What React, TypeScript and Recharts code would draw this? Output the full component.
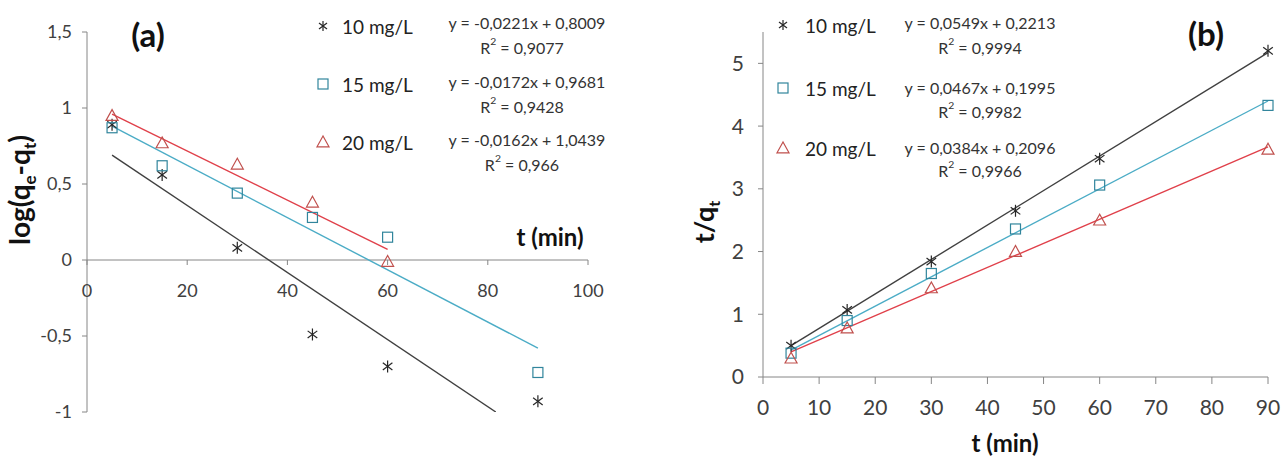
import React from "react";
import {
  ScatterChart,
  Scatter,
  XAxis,
  YAxis,
  ReferenceLine,
} from "recharts";

// Sampling times (min)
const times = [5, 15, 30, 45, 60, 90];

// Panel (a): log(qe - qt)
const a10 = [0.89, 0.56, 0.08, -0.49, -0.7, -0.93];
const a15 = [0.87, 0.62, 0.44, 0.28, 0.15, -0.74];
const a20 = [0.95, 0.77, 0.63, 0.38, -0.01];

// Panel (a) trend line ends
const a10Fit = [{ t: 5, v: 0.69 }, { t: 81.6, v: -1.0 }];
const a15Fit = [{ t: 5, v: 0.88 }, { t: 90, v: -0.58 }];
const a20Fit = [{ t: 5, v: 0.96 }, { t: 60, v: 0.07 }];

// Panel (b): t/qt
const b10 = [0.5, 1.07, 1.84, 2.65, 3.48, 5.2];
const b15 = [0.38, 0.9, 1.65, 2.36, 3.06, 4.33];
const b20 = [0.3, 0.78, 1.42, 2.0, 2.5, 3.63];

const b10Fit = [{ t: 5, v: 0.5 }, { t: 90, v: 5.17 }];
const b15Fit = [{ t: 5, v: 0.43 }, { t: 90, v: 4.4 }];
const b20Fit = [{ t: 5, v: 0.4 }, { t: 90, v: 3.67 }];

// Ticks
const aXTicks = [0, 20, 40, 60, 80, 100];
const aYTicks = [-1, -0.5, 0, 0.5, 1, 1.5];
const bXTicks = [0, 10, 20, 30, 40, 50, 60, 70, 80, 90];
const bYTicks = [0, 1, 2, 3, 4, 5];

// Legend / equation labels
const seriesNames = ["10 mg/L", "15 mg/L", "20 mg/L"];
const aEquations = ["y = -0,0221x + 0,8009", "y = -0,0172x + 0,9681", "y = -0,0162x + 1,0439"];
const aR2 = ["0,9077", "0,9428", "0,966"];
const bEquations = ["y = 0,0549x + 0,2213", "y = 0,0467x + 0,1995", "y = 0,0384x + 0,2096"];
const bR2 = ["0,9994", "0,9982", "0,9966"];

const toPoints = (ys: number[]) => ys.map((v, i) => ({ t: times[i], v }));

const FONT = "Lato, 'Open Sans', sans-serif";
const AXIS = "#868686";
const TEXT = "#333";
const BLACK = "#262626";
const BLACK_LINE = "#404040";
const BLUE_MARK = "#31859c";
const BLUE_LINE = "#4bacc6";
const RED_MARK = "#c0504d";
const RED_LINE = "#e0404a";

// Layout of panel (a)
const A_H = 459;
const A_TOP = 32;
const A_BOTTOM = 47;
const A_PLOT_H = A_H - A_TOP - A_BOTTOM;
const A_YMIN = -1;
const A_YMAX = 1.5;
const A_ZERO_UP = (A_PLOT_H * (0 - A_YMIN)) / (A_YMAX - A_YMIN);

const comma = (v: number) => String(v).replace(".", ",");

const Asterisk = ({ cx = 0, cy = 0, r = 6 }: any) => (
  <g stroke={BLACK} strokeWidth={1.2}>
    <line x1={cx} y1={cy - r} x2={cx} y2={cy + r} />
    <line x1={cx - r * 0.8} y1={cy - r * 0.6} x2={cx + r * 0.8} y2={cy + r * 0.6} />
    <line x1={cx - r * 0.8} y1={cy + r * 0.6} x2={cx + r * 0.8} y2={cy - r * 0.6} />
  </g>
);

const Square = ({ cx = 0, cy = 0, r = 5 }: any) => (
  <rect x={cx - r} y={cy - r} width={r * 2} height={r * 2} fill="none" stroke={BLUE_MARK} strokeWidth={1.2} />
);

const Triangle = ({ cx = 0, cy = 0, r = 6 }: any) => (
  <polygon
    points={`${cx},${cy - r} ${cx - r},${cy + r * 0.8} ${cx + r},${cy + r * 0.8}`}
    fill="none"
    stroke={RED_MARK}
    strokeWidth={1.2}
  />
);

const NoDot = () => <g />;

// x ticks of panel (a) sit on the y = 0 line, not at the bottom of the plot
const ZeroAxisTick = ({ x, y, payload }: any) => {
  const y0 = y - A_ZERO_UP;
  return (
    <g>
      <line x1={x} x2={x} y1={y0} y2={y0 + 5} stroke={AXIS} />
      <text x={x} y={y0 + 24} dy="0.71em" textAnchor="middle" fontSize={18} fill="#404040" fontFamily={FONT}>
        {payload.value}
      </text>
    </g>
  );
};

const R2Text = ({ x, y, value, size }: any) => (
  <text x={x} y={y} textAnchor="middle" dominantBaseline="central" fontSize={size} fill={TEXT}>
    R<tspan dy={-6} fontSize={size * 0.65}>2</tspan>
    <tspan dy={6}> = {value}</tspan>
  </text>
);

const markers = [Asterisk, Square, Triangle];

const App = () => {
  return (
    <div style={{ position: "absolute", left: 0, top: 0, width: 1282, height: 459, background: "#fff", fontFamily: FONT }}>
      {/* Panel (a) */}
      <div style={{ position: "absolute", left: 0, top: 0 }}>
        <ScatterChart width={640} height={A_H} margin={{ top: A_TOP, right: 52, bottom: 17, left: 27 }}>
          <XAxis
            dataKey="t"
            type="number"
            domain={[0, 100]}
            ticks={aXTicks}
            axisLine={false}
            tickLine={false}
            tickSize={0}
            tickMargin={0}
            height={30}
            tick={<ZeroAxisTick />}
          />
          <YAxis
            dataKey="v"
            type="number"
            domain={[A_YMIN, A_YMAX]}
            ticks={aYTicks}
            allowDataOverflow
            width={60}
            stroke={AXIS}
            tickSize={5}
            tickMargin={10}
            tickFormatter={comma}
            tick={{ fontSize: 18, fill: "#404040", fontFamily: FONT }}
          />
          <ReferenceLine y={0} stroke={AXIS} strokeWidth={1} />
          <Scatter data={a10Fit} line={{ stroke: BLACK_LINE, strokeWidth: 1.4 }} shape={<NoDot />} isAnimationActive={false} />
          <Scatter data={a15Fit} line={{ stroke: BLUE_LINE, strokeWidth: 1.4 }} shape={<NoDot />} isAnimationActive={false} />
          <Scatter data={a20Fit} line={{ stroke: RED_LINE, strokeWidth: 1.4 }} shape={<NoDot />} isAnimationActive={false} />
          <Scatter name="10 mg/L" data={toPoints(a10)} shape={<Asterisk />} isAnimationActive={false} />
          <Scatter name="15 mg/L" data={toPoints(a15)} shape={<Square />} isAnimationActive={false} />
          <Scatter name="20 mg/L" data={toPoints(a20)} shape={<Triangle />} isAnimationActive={false} />
        </ScatterChart>
      </div>

      {/* Panel (b) */}
      <div style={{ position: "absolute", left: 640, top: 0 }}>
        <ScatterChart width={642} height={459} margin={{ top: 32, right: 14, bottom: 22, left: 63 }}>
          <XAxis
            dataKey="t"
            type="number"
            domain={[0, 90]}
            ticks={bXTicks}
            height={60}
            stroke={AXIS}
            tickSize={7}
            tickMargin={16}
            tick={{ fontSize: 21, fill: "#404040", fontFamily: FONT }}
          />
          <YAxis
            dataKey="v"
            type="number"
            domain={[0, 5.5]}
            ticks={bYTicks}
            width={60}
            stroke={AXIS}
            tickSize={5}
            tickMargin={14}
            tick={{ fontSize: 21, fill: "#404040", fontFamily: FONT }}
          />
          <Scatter data={b10Fit} line={{ stroke: BLACK_LINE, strokeWidth: 1.4 }} shape={<NoDot />} isAnimationActive={false} />
          <Scatter data={b15Fit} line={{ stroke: BLUE_LINE, strokeWidth: 1.4 }} shape={<NoDot />} isAnimationActive={false} />
          <Scatter data={b20Fit} line={{ stroke: RED_LINE, strokeWidth: 1.4 }} shape={<NoDot />} isAnimationActive={false} />
          <Scatter name="10 mg/L" data={toPoints(b10)} shape={<Asterisk />} isAnimationActive={false} />
          <Scatter name="15 mg/L" data={toPoints(b15)} shape={<Square />} isAnimationActive={false} />
          <Scatter name="20 mg/L" data={toPoints(b20)} shape={<Triangle />} isAnimationActive={false} />
        </ScatterChart>
      </div>

      {/* Titles, axis names, legends and trend equations */}
      <svg width={1282} height={459} style={{ position: "absolute", left: 0, top: 0, pointerEvents: "none" }} fontFamily={FONT}>
        <text x={148} y={47} textAnchor="middle" fontSize={33} fontWeight="bold" fill="#111">(a)</text>
        <text x={1206} y={46} textAnchor="middle" fontSize={33} fontWeight="bold" fill="#111">(b)</text>
        <text x={550} y={246} textAnchor="middle" fontSize={24} fontWeight="bold" fill="#111">t (min)</text>
        <text x={1005} y={452} textAnchor="middle" fontSize={24} fontWeight="bold" fill="#111">t (min)</text>

        <text transform="translate(30,190) rotate(-90)" textAnchor="middle" fontSize={28} fontWeight="bold" fill="#111">
          log(q<tspan dy={6} fontSize={17}>e</tspan>
          <tspan dy={-6}>-q</tspan>
          <tspan dy={6} fontSize={17}>t</tspan>
          <tspan dy={-6}>)</tspan>
        </text>
        <text transform="translate(714,222) rotate(-90)" textAnchor="middle" fontSize={27} fontWeight="bold" fill="#111">
          t/q<tspan dy={6} fontSize={16}>t</tspan>
        </text>

        {seriesNames.map((name, i) => {
          const Mark = markers[i];
          const ly = [26, 84, 142][i];
          const ey = [22, 81, 139][i];
          const ry = [47, 106, 164][i];
          return (
            <g key={"a" + name}>
              <Mark cx={323} cy={ly} r={i === 2 ? 6 : 5} />
              <text x={342} y={ly} dominantBaseline="central" fontSize={19} fill="#222">{name}</text>
              <text x={527} y={ey} textAnchor="middle" dominantBaseline="central" fontSize={16} fill={TEXT}>
                {aEquations[i]}
              </text>
              <R2Text x={522} y={ry} value={aR2[i]} size={16} />
            </g>
          );
        })}

        {seriesNames.map((name, i) => {
          const Mark = markers[i];
          const ly = [25, 88, 148][i];
          const ey = [22, 87, 147][i];
          const ry = [47, 111, 170][i];
          return (
            <g key={"b" + name}>
              <Mark cx={783} cy={ly} r={i === 2 ? 6 : 5} />
              <text x={805} y={ly} dominantBaseline="central" fontSize={19} fill="#222">{name}</text>
              <text x={980} y={ey} textAnchor="middle" dominantBaseline="central" fontSize={16} fill={TEXT}>
                {bEquations[i]}
              </text>
              <R2Text x={980} y={ry} value={bR2[i]} size={16} />
            </g>
          );
        })}
      </svg>
    </div>
  );
};

export default App;
